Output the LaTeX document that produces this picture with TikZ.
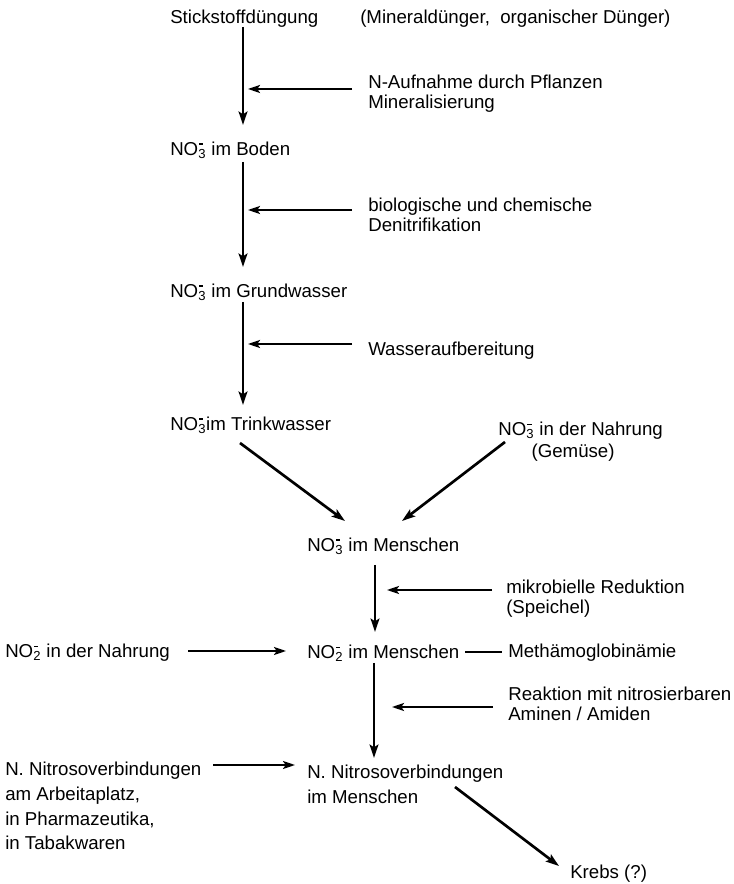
\documentclass[tikz,border=0pt]{standalone}
\usepackage{fontspec}
\setmainfont{Liberation Sans}
\usetikzlibrary{arrows.meta,calc}
\newcommand\nox[1]{NO\rlap{\kern0.04em\raisebox{0.56em}{\rule{0.24em}{0.07em}}}\textsubscript{#1}}
\begin{document}
\begin{tikzpicture}[x=0.75pt,y=0.75pt,
  txt/.style={anchor=west,inner sep=0pt,align=left,font=\fontsize{14}{15}\selectfont},
  arrv/.style={line width=2pt,-{Stealth[length=10pt,width=6.5pt,inset=2pt]}},
  arrh/.style={line width=1.5pt,-{Stealth[length=9pt,width=6pt,inset=2pt]}},
  plain/.style={line width=1.2pt}]
\useasboundingbox (0,0) rectangle (733,884);
% nodes
\node[txt] (stick) at (170,865) {Stickstoffdüngung};
\node[txt] (mineral) at (360,865) {(Mineraldünger,\ \ organischer Dünger)};
\node[txt] (naufn) at (368,790) {N-Aufnahme durch Pflanzen\\Mineralisierung};
\node[txt] (boden) at (170,734) {\nox3 im Boden};
\node[txt] (bio) at (368,669) {biologische und chemische\\Denitrifikation};
\node[txt] (grund) at (170,592) {\nox3 im Grundwasser};
\node[txt] (wasser) at (368,533) {Wasseraufbereitung};
\node[txt] (trink) at (170,459) {\nox3im Trinkwasser};
\node[txt,font=\fontsize{14}{16.5}\selectfont] (nahrung) at (498,442) {\nox3 in der Nahrung\\\hspace*{25pt}(Gemüse)};
\node[txt] (mensch3) at (307,338) {\nox3 im Menschen};
\node[txt] (mikro) at (506,285) {mikrobielle Reduktion\\(Speichel)};
\node[txt] (no2nahr) at (5,231) {\nox2 in der Nahrung};
\node[txt] (mensch2) at (307,231) {\nox2 im Menschen};
\node[txt] (meth) at (508,231) {Methämoglobinämie};
\node[txt] (reakt) at (508,180) {Reaktion mit nitrosierbaren\\Aminen / Amiden};
\node[txt,font=\fontsize{14}{18.5}\selectfont] (nleft) at (5,78) {N. Nitrosoverbindungen\\am Arbeitaplatz,\\in Pharmazeutika,\\in Tabakwaren};
\node[txt,font=\fontsize{14}{18.75}\selectfont] (nmensch) at (307,100) {N. Nitrosoverbindungen\\im Menschen};
\node[txt] (krebs) at (570,10) {Krebs (?)};
% main vertical chain
\draw[arrv] ($(stick.west)+(73,-8)$) -- ($(boden.west)+(73,25)$);
\draw[arrh] ($(naufn.west)+(-16,5)$) -- ($(naufn.west)+(-120,5)$);
\draw[arrv] ($(boden.west)+(73,-12)$) -- ($(grund.west)+(73,25)$);
\draw[arrh] ($(bio.west)+(-16,5)$) -- ($(bio.west)+(-120,5)$);
\draw[arrv] ($(grund.west)+(73,-10)$) -- ($(trink.west)+(73,20)$);
\draw[arrh] ($(wasser.west)+(-16,7)$) -- ($(wasser.west)+(-120,7)$);
% converging diagonals
\draw[arrv] ($(trink.west)+(70,-18)$) -- ($(mensch3.west)+(38,25)$);
\draw[arrv] ($(nahrung.west)+(7,0)$) -- ($(mensch3.west)+(95,25)$);
% lower chain
\draw[arrv] ($(mensch3.west)+(68,-19)$) -- ($(mensch2.west)+(68,21)$);
\draw[arrh] ($(mikro.west)+(-14,9)$) -- ($(mikro.west)+(-119,9)$);
\draw[arrh] ($(no2nahr.west)+(183,2)$) -- ($(mensch2.west)+(-21,2)$);
\draw[plain] ($(mensch2.west)+(158,1)$) -- ($(meth.west)+(-6,1)$);
\draw[arrv] ($(mensch2.west)+(67,-10)$) -- ($(nmensch.west)+(67,26)$);
\draw[arrh] ($(reakt.west)+(-15,-3)$) -- ($(reakt.west)+(-116,-3)$);
\draw[arrh] ($(nleft.west)+(208,41)$) -- ($(nmensch.west)+(-12,19)$);
\draw[arrv] ($(nmensch.west)+(148,-3)$) -- ($(krebs.west)+(-11,8)$);
\end{tikzpicture}
\end{document}
